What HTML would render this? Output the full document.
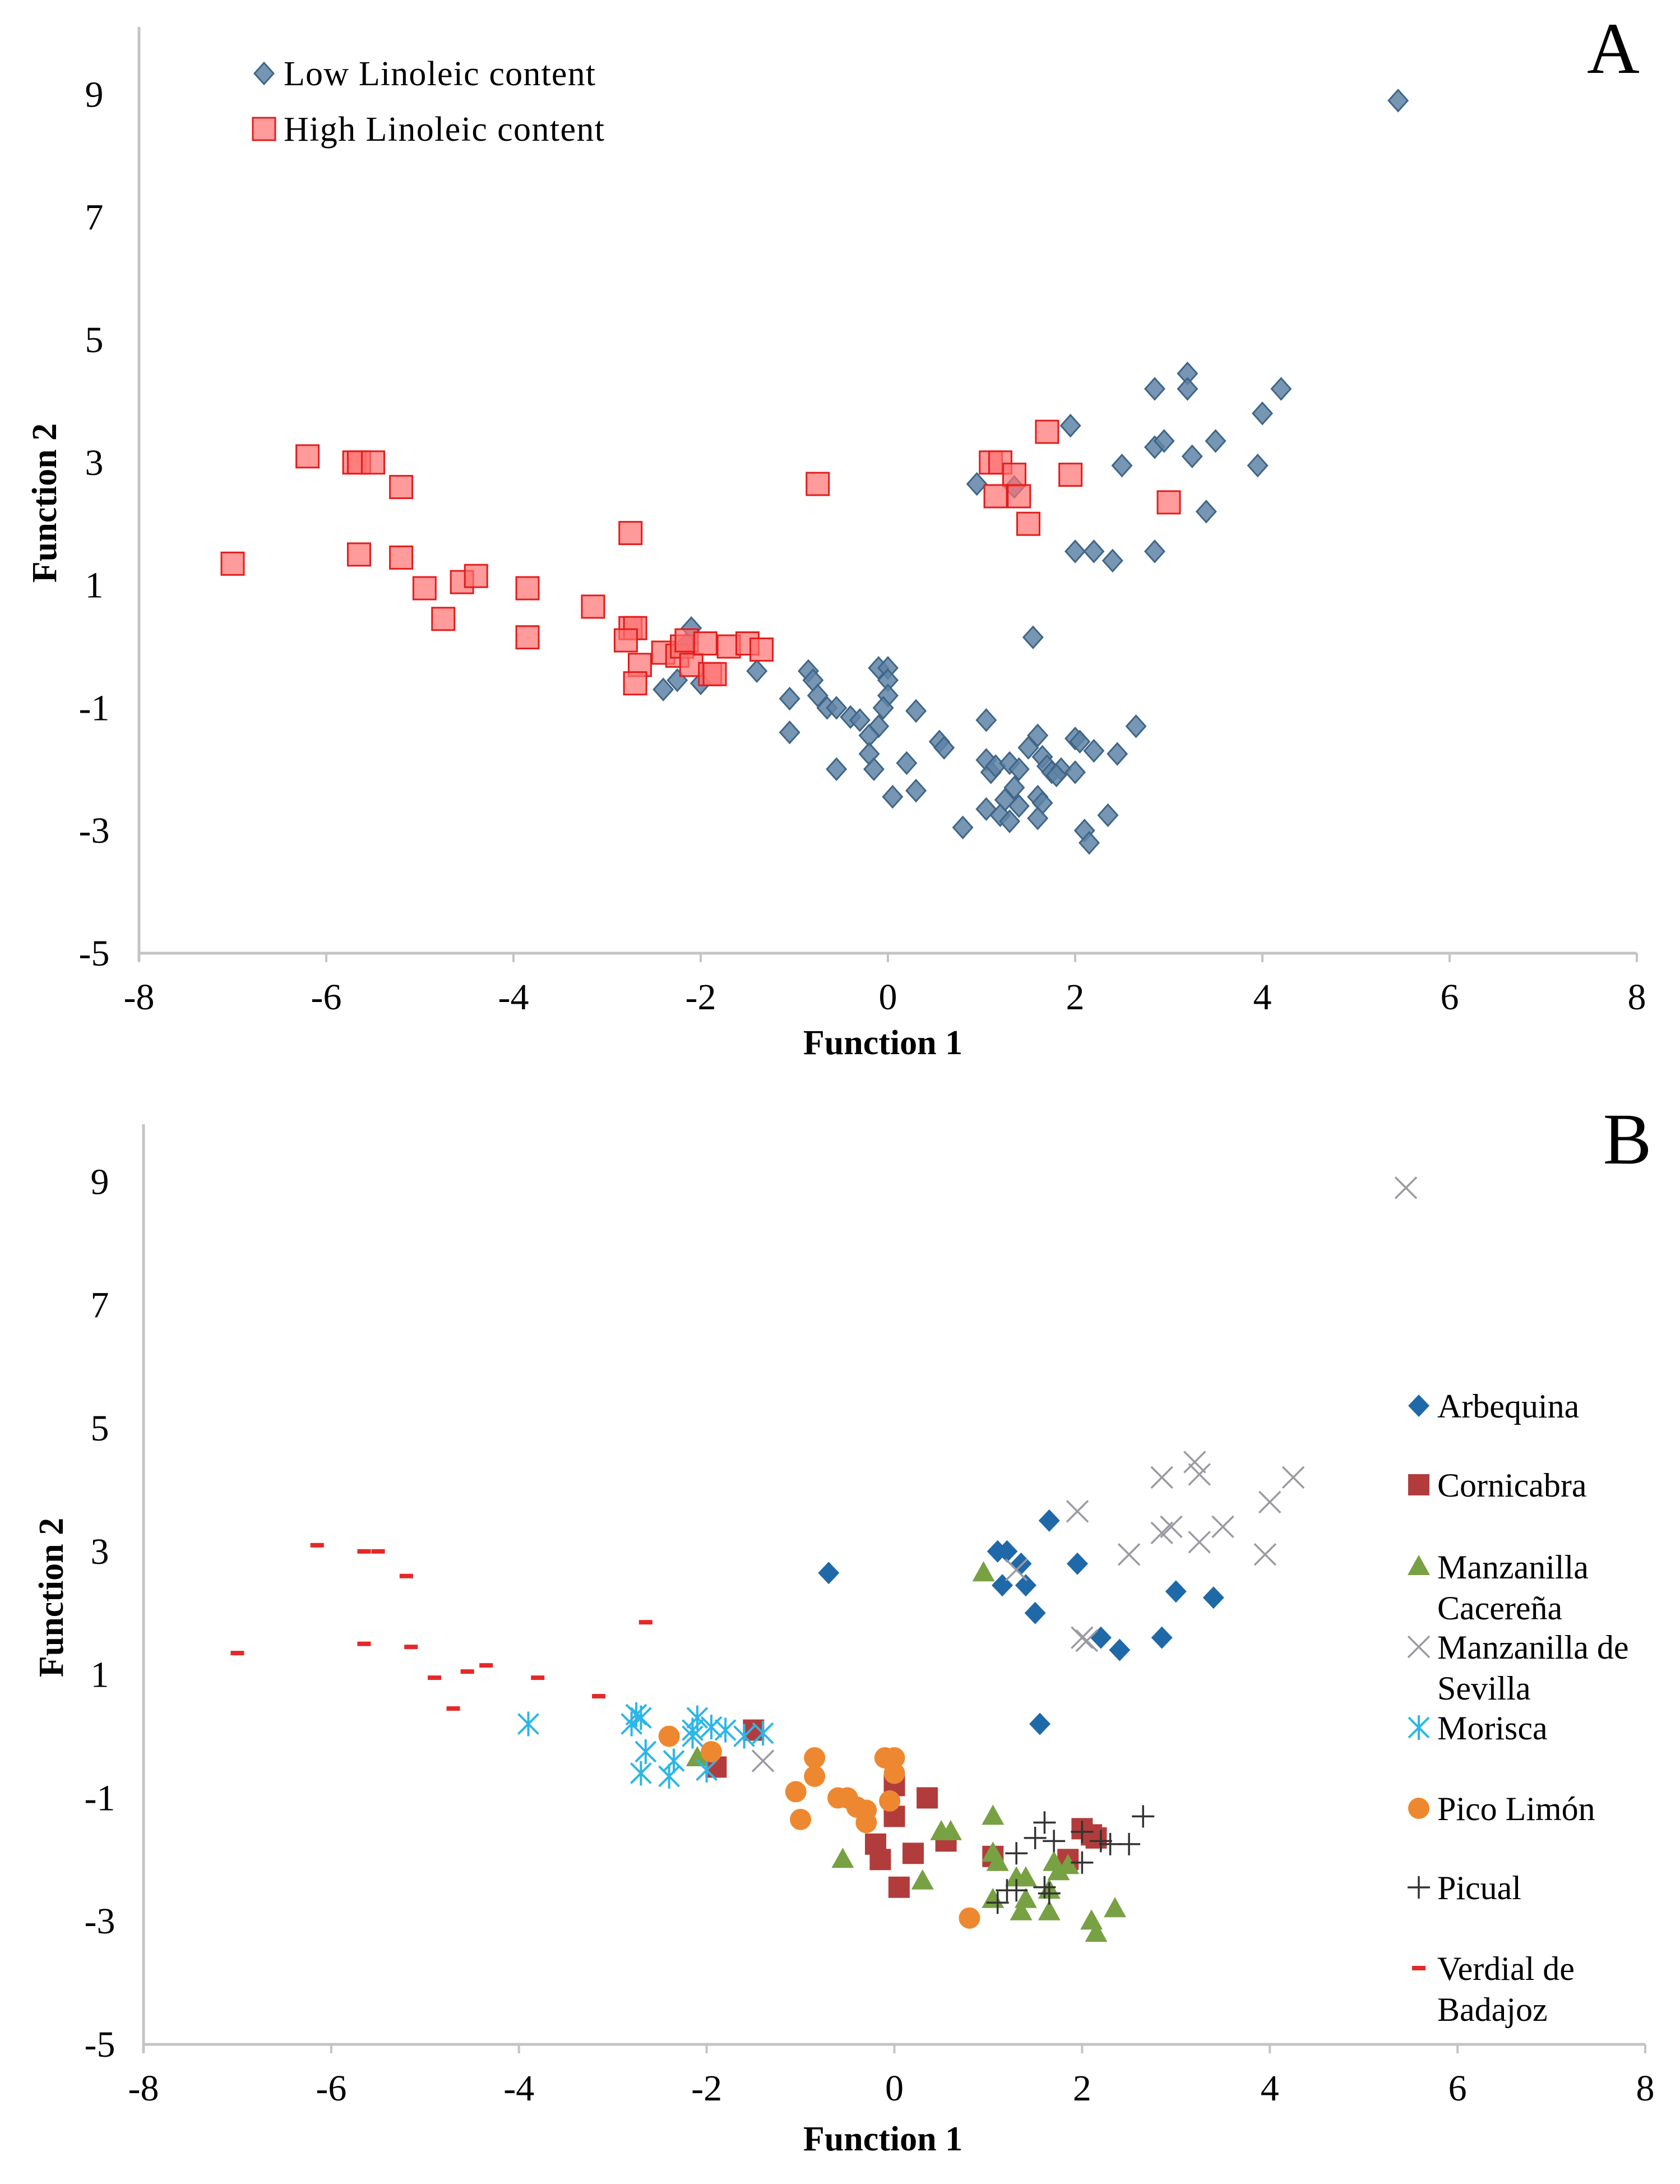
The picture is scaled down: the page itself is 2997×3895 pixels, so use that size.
<!DOCTYPE html>
<html><head><meta charset="utf-8"><style>
html,body{margin:0;padding:0;background:#fff;}
svg{display:block;}
text{font-family:"Liberation Serif",serif;fill:#000;}
</style></head><body>
<svg id="fig" width="2997" height="3895" viewBox="0 0 2997 3895" xmlns="http://www.w3.org/2000/svg">
<text x="2878" y="130" font-size="130" text-anchor="middle">A</text>
<text x="2903" y="2075" font-size="130" text-anchor="middle">B</text>
<g id="chartA"></g>
<g id="chartB"></g>
</svg>
<script>
// ---- Chart A data ----
const xTicks = [-8,-6,-4,-2,0,2,4,6,8];
const yTicks = [-5,-3,-1,1,3,5,7,9];
const lowX = [5.45,1.95,2.85,3.2,3.2,4.2,4.0,2.85,2.95,3.25,3.5,2.5,3.95,3.4,0.95,1.35,2.0,2.2,2.4,2.85,1.55,
 -2.1,-2.15,-2.4,-2.25,-2.0,-1.4,-0.85,-0.8,-1.05,-0.75,-0.65,-0.55,-0.4,-0.3,-0.1,0.0,0.0,0.0,-0.05,-0.1,-0.2,0.3,-1.05,-0.55,-0.2,-0.15,0.05,0.3,0.2,0.55,0.6,1.05,1.05,1.1,1.15,1.3,1.35,1.25,1.05,1.2,1.3,1.4,1.5,1.6,1.65,1.7,1.75,1.85,1.6,1.65,1.6,0.8,2.0,2.05,2.2,2.45,2.65,2.0,2.35,2.1,2.15,1.8,1.4];
const lowY = [8.9,3.6,4.2,4.45,4.2,4.2,3.8,3.25,3.35,3.1,3.35,2.95,2.95,2.2,2.65,2.6,1.55,1.55,1.4,1.55,0.15,
 0.3,0.05,-0.7,-0.55,-0.6,-0.4,-0.4,-0.55,-0.85,-0.8,-1.0,-1.0,-1.15,-1.2,-0.35,-0.35,-0.55,-0.8,-1.0,-1.3,-1.45,-1.05,-1.4,-2.0,-1.75,-2.0,-2.45,-2.35,-1.9,-1.55,-1.65,-1.2,-1.85,-2.05,-1.95,-1.9,-2.3,-2.5,-2.65,-2.75,-2.85,-2.6,-1.65,-1.45,-1.8,-1.95,-2.05,-2.0,-2.45,-2.55,-2.8,-2.95,-1.5,-1.55,-1.7,-1.75,-1.3,-2.05,-2.75,-3.0,-3.2,-2.1,-2.0];
const highX = [-7.0,-6.2,-5.7,-5.65,-5.5,-5.2,-5.65,-5.2,-4.95,-4.55,-4.4,-4.75,-3.85,-3.85,-3.15,-2.75,-2.75,-2.7,-2.8,-2.65,-2.7,-2.4,-2.25,-2.2,-2.15,-2.1,-1.95,-1.9,-1.85,-1.7,-1.5,-1.35,-0.75,1.1,1.2,1.35,1.15,1.4,1.5,1.7,1.95,3.0];
const highY = [1.35,3.1,3.0,3.0,3.0,2.6,1.5,1.45,0.95,1.05,1.15,0.45,0.95,0.15,0.65,1.85,0.3,0.3,0.1,-0.3,-0.6,-0.1,-0.15,0.0,0.1,-0.3,0.05,-0.45,-0.45,0.0,0.05,-0.05,2.65,3.0,3.0,2.8,2.45,2.45,2.0,3.5,2.8,2.35];

// ---- Chart B data ----
const arbX=[-0.7,1.1,1.2,1.35,1.15,1.4,1.5,1.65,1.95,3.0,3.4,2.2,2.4,2.85,1.55];
const arbY=[2.65,3.0,3.0,2.8,2.45,2.45,2.0,3.5,2.8,2.35,2.25,1.6,1.4,1.6,0.2];
const corX=[-1.5,-1.9,0.0,0.0,0.35,-0.2,-0.15,0.2,0.05,0.55,1.05,2.0,2.1,2.15,1.85];
const corY=[0.1,-0.5,-0.8,-1.3,-1.0,-1.75,-2.0,-1.9,-2.45,-1.7,-1.95,-1.5,-1.6,-1.65,-2.0];
const mcX=[0.95,-2.1,-0.55,0.3,0.5,0.6,1.05,1.05,1.1,1.3,1.4,1.05,1.35,1.4,1.65,1.7,1.75,1.85,2.1,2.15,2.35,1.65];
const mcY=[2.65,-0.35,-2.0,-2.35,-1.55,-1.55,-1.3,-1.9,-2.05,-2.3,-2.3,-2.65,-2.85,-2.65,-2.85,-2.05,-2.2,-2.1,-3.0,-3.2,-2.8,-2.5];
const msX=[5.45,1.95,2.85,3.2,3.25,4.25,4.0,2.85,2.95,3.25,3.5,2.5,3.95,1.3,2.0,2.05,-1.4];
const msY=[8.9,3.65,4.2,4.45,4.25,4.2,3.8,3.3,3.4,3.15,3.4,2.95,2.95,2.7,1.6,1.55,-0.4];
const morX=[-3.9,-2.8,-2.75,-2.7,-2.65,-2.7,-2.4,-2.35,-2.15,-2.1,-2.15,-1.95,-1.8,-1.4,-2.0,-1.6];
const morY=[0.2,0.2,0.35,0.3,-0.25,-0.6,-0.65,-0.4,0.1,0.3,0.0,0.15,0.1,0.05,-0.55,0.0];
const picoX=[-2.4,-1.95,-0.85,-0.85,-1.05,-0.6,-0.5,-0.4,-0.3,-0.3,-0.1,0.0,0.0,-0.05,-1.0,0.8];
const picoY=[0.0,-0.25,-0.35,-0.65,-0.9,-1.0,-1.0,-1.15,-1.2,-1.4,-0.35,-0.35,-0.6,-1.05,-1.35,-2.95];
const picX=[1.6,1.5,1.7,2.0,2.2,2.3,2.5,2.65,1.3,2.0,1.2,1.3,1.1,1.6,1.65];
const picY=[-1.4,-1.65,-1.7,-1.55,-1.7,-1.75,-1.75,-1.3,-1.9,-2.05,-2.5,-2.5,-2.7,-2.45,-2.55];
const verX=[-7.0,-6.15,-5.65,-5.5,-5.2,-5.65,-5.15,-4.9,-4.55,-4.35,-4.7,-3.8,-3.15,-2.65];
const verY=[1.35,3.1,3.0,3.0,2.6,1.5,1.45,0.95,1.05,1.15,0.45,0.95,0.65,1.85];
const legendB=["Arbequina","Cornicabra","Manzanilla|Cacereña","Manzanilla de|Sevilla","Morisca","Pico Limón","Picual","Verdial de|Badajoz"];

const NS="http://www.w3.org/2000/svg";
function mk(parent,tag,attrs){const e=document.createElementNS(NS,tag);for(const k in attrs)e.setAttribute(k,attrs[k]);parent.appendChild(e);return e;}

function axes(g,cfg){
  const sx=v=>cfg.x0+(v+8)*(cfg.x1-cfg.x0)/16;
  const sy=v=>cfg.yb-(v+5)*cfg.ppu;
  const ya=mk(g,'line',{x1:cfg.x0,y1:cfg.top,x2:cfg.x0,y2:cfg.yb+14,stroke:'#c4c4c4','stroke-width':5});
  
  
  const xa=mk(g,'line',{x1:cfg.x0,y1:cfg.yb,x2:cfg.x1,y2:cfg.yb,stroke:'#c4c4c4','stroke-width':5});
  
  
  xTicks.forEach(t=>{
    const tk=mk(g,'line',{x1:sx(t),y1:cfg.yb,x2:sx(t),y2:cfg.yb+16,stroke:'#c4c4c4','stroke-width':4});
    
    
    const tx=mk(g,'text',{x:sx(t),y:cfg.yb+100,'font-size':66,'text-anchor':'middle'});
    tx.textContent=t;
    
    
  });
  yTicks.forEach(t=>{
    const tx=mk(g,'text',{x:cfg.ylx,y:sy(t)+22,'font-size':66,'text-anchor':'middle'});
    tx.textContent=t;
    
    
  });
  const xt=mk(g,'text',{x:cfg.xtx,y:cfg.xty,'font-size':62,'font-weight':'bold','text-anchor':'middle'});
  xt.textContent='Function 1';
  
  
  const yt=mk(g,'text',{x:0,y:0,'font-size':62,'font-weight':'bold','text-anchor':'middle',transform:`translate(${cfg.ytx},${cfg.yty}) rotate(-90)`});
  yt.textContent='Function 2';
  
  
  return {sx,sy};
}

function marker(g,type,cx,cy){
  let e;
  if(type==='diamondA'){e=mk(g,'polygon',{points:`${cx},${cy-19} ${cx+17},${cy} ${cx},${cy+19} ${cx-17},${cy}`,fill:'#5f84a6','fill-opacity':0.85,stroke:'#3f6688','stroke-width':3});}
  else if(type==='squareA'){e=mk(g,'rect',{x:cx-20,y:cy-20,width:40,height:40,fill:'#ff7070','fill-opacity':0.7,stroke:'#e41c1c','stroke-width':3});}
  else if(type==='diamond'){e=mk(g,'polygon',{points:`${cx},${cy-20} ${cx+19},${cy} ${cx},${cy+20} ${cx-19},${cy}`,fill:'#1f69a8'});}
  else if(type==='square'){e=mk(g,'rect',{x:cx-19,y:cy-19,width:38,height:38,fill:'#b23c3c'});}
  else if(type==='triangle'){e=mk(g,'polygon',{points:`${cx},${cy-21} ${cx+20},${cy+15} ${cx-20},${cy+15}`,fill:'#77a143'});}
  else if(type==='x'){e=mk(g,'path',{d:`M${cx-19},${cy-19}L${cx+19},${cy+19}M${cx-19},${cy+19}L${cx+19},${cy-19}`,stroke:'#9a9aa2','stroke-width':3.5,fill:'none'});}
  else if(type==='star'){e=mk(g,'path',{d:`M${cx-18},${cy-18}L${cx+18},${cy+18}M${cx-18},${cy+18}L${cx+18},${cy-18}M${cx},${cy-22}L${cx},${cy+22}`,stroke:'#2cb6e6','stroke-width':4,fill:'none'});}
  else if(type==='circle'){e=mk(g,'circle',{cx:cx,cy:cy,r:19,fill:'#ee8830'});}
  else if(type==='plus'){e=mk(g,'path',{d:`M${cx-20},${cy}L${cx+20},${cy}M${cx},${cy-20}L${cx},${cy+20}`,stroke:'#333','stroke-width':3.5,fill:'none'});}
  else if(type==='dash'){e=mk(g,'rect',{x:cx-12,y:cy-4,width:24,height:8,fill:'#e52828'});}
  return e;
}

// Chart A
const gA=document.getElementById('chartA');
const A=axes(gA,{x0:248,x1:2920,yb:1700,ppu:109.4,top:48,ylx:168,xtx:1575,xty:1880,ytx:100,yty:897});
lowX.forEach((v,i)=>{const e=marker(gA,'diamondA',A.sx(v),A.sy(lowY[i]));
  
  });
highX.forEach((v,i)=>{const e=marker(gA,'squareA',A.sx(v),A.sy(highY[i]));
  
  });
{
  const l1=marker(gA,'diamondA',471,131);
  
  
  const t1=mk(gA,'text',{x:506,y:152,'font-size':62,textLength:556});t1.textContent='Low Linoleic content';
  
  
  const l2=marker(gA,'squareA',471,230);
  
  
  const t2=mk(gA,'text',{x:506,y:251,'font-size':62,textLength:572});t2.textContent='High Linoleic content';
  
  
}

// Chart B
const gB=document.getElementById('chartB');
const B=axes(gB,{x0:256,x1:2935,yb:3646,ppu:109.9,top:2005,ylx:178,xtx:1575,xty:3835,ytx:112,yty:2849});
const seriesB=[[arbX,arbY,'diamond','arbequina'],[corX,corY,'square','cornicabra'],[mcX,mcY,'triangle','manzanilla-cacerena'],[msX,msY,'x','manzanilla-sevilla'],[morX,morY,'star','morisca'],[picoX,picoY,'circle','pico-limon'],[picX,picY,'plus','picual'],[verX,verY,'dash','verdial-badajoz']];
seriesB.forEach(s=>{
  s[0].forEach((v,i)=>{const e=marker(gB,s[2],B.sx(v),B.sy(s[1][i]));
    
    });
});
const legY=[2507,2648,2794,2937,3081,3225,3366,3510];
legendB.forEach((lab,i)=>{
  const m=marker(gB,seriesB[i][2],2531,legY[i]);
  
  
  const t=mk(gB,'text',{x:2564,y:legY[i]+21,'font-size':60});
  const parts=lab.split('|');
  parts.forEach((p,j)=>{const ts=mk(t,'tspan',{x:2564,dy:j?73:0});ts.textContent=p;});
  
  
});
</script>
</body></html>
